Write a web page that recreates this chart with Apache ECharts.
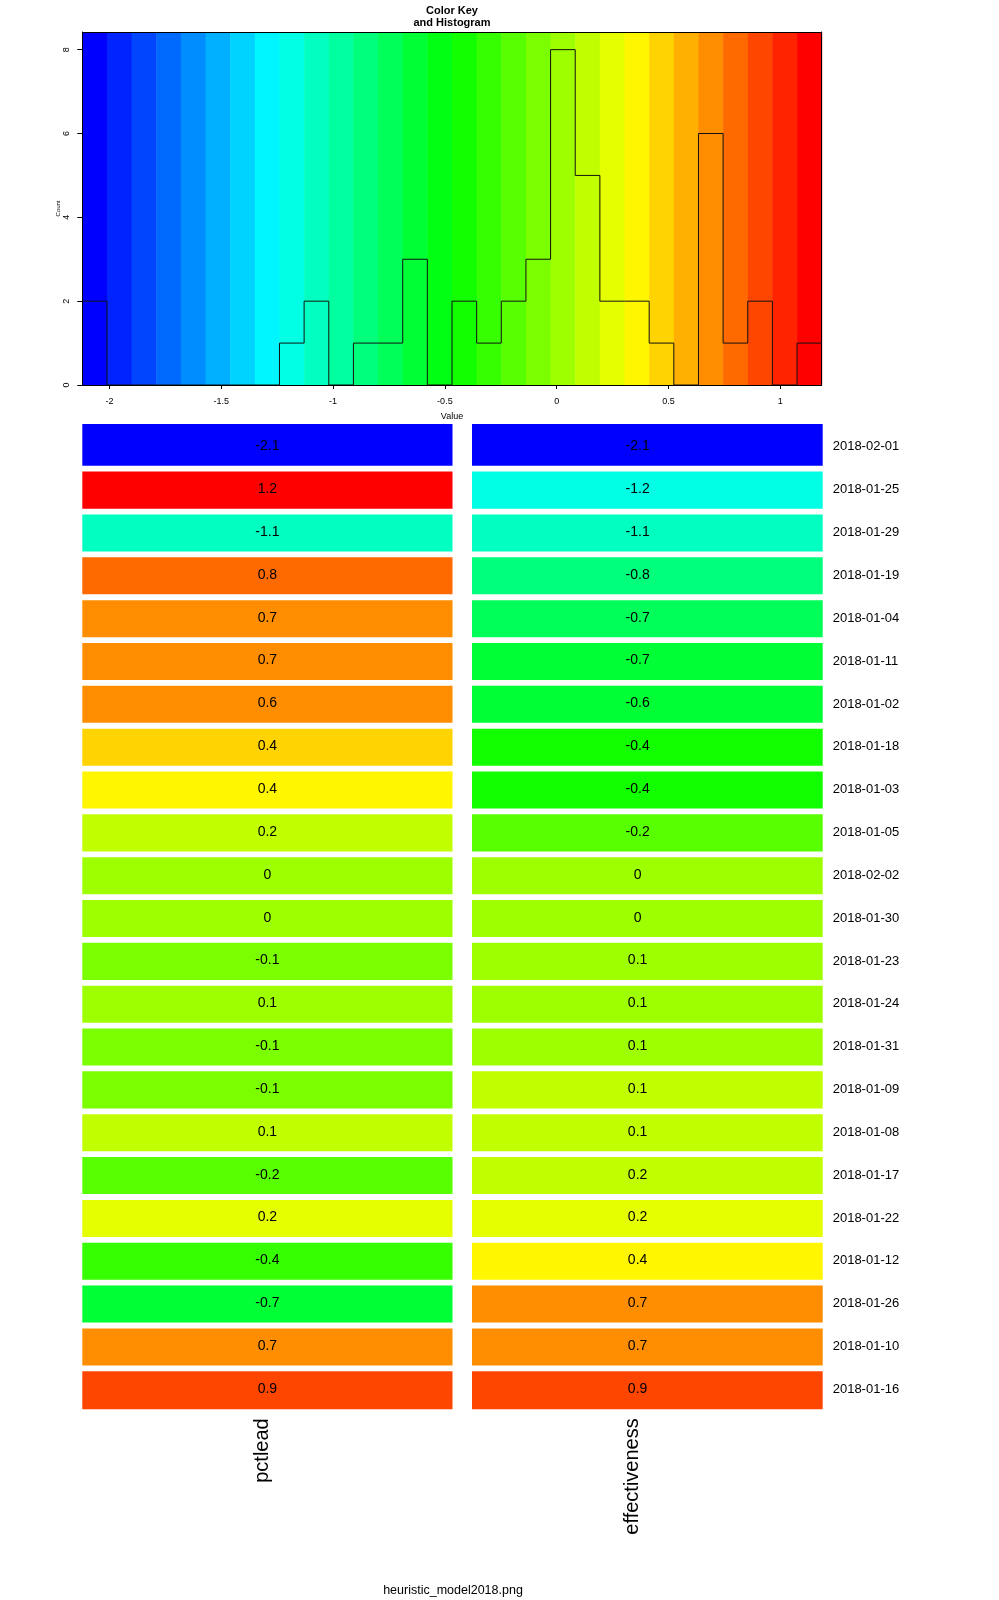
<!DOCTYPE html>
<html>
<head>
<meta charset="utf-8">
<script src="https://cdn.jsdelivr.net/npm/echarts@6/dist/echarts.min.js"></script>
<style>
html,body{margin:0;padding:0;background:#fff;}
#chart{width:999px;height:1600px;}
</style>
</head>
<body>
<div id="chart"></div>
<script>
// ---------------- data ----------------
const dates = ["2018-02-01","2018-01-25","2018-01-29","2018-01-19","2018-01-04","2018-01-11","2018-01-02","2018-01-18","2018-01-03","2018-01-05","2018-02-02","2018-01-30","2018-01-23","2018-01-24","2018-01-31","2018-01-09","2018-01-08","2018-01-17","2018-01-22","2018-01-12","2018-01-26","2018-01-10","2018-01-16"];
const columns = ["pctlead", "effectiveness"];
const pctlead = [-2.1216, 1.1853, -1.08, 0.80, 0.70, 0.68, 0.64, 0.43, 0.37, 0.17, 0.01, -0.01, -0.09, 0.06, -0.10, -0.12, 0.12, -0.19, 0.22, -0.356, -0.67, 0.71, 0.90];
const effectiveness = [-2.08, -1.20, -1.10, -0.82, -0.72, -0.67, -0.62, -0.40, -0.42, -0.20, 0.00, 0.02, 0.07, 0.06, 0.08, 0.11, 0.13, 0.17, 0.21, 0.38, 0.69, 0.72, 0.92];
const histCounts = [2,0,0,0,0,0,0,0,1,2,0,1,1,3,0,2,1,2,3,8,5,2,2,1,0,6,1,2,0,1];
const keyTicks = [-2, -1.5, -1, -0.5, 0, 0.5, 1];
const countTicks = [0, 2, 4, 6, 8];
const titleLines = ["Color Key", "and Histogram"];
const xName = "Value";
const yName = "Count";
const footer = "heuristic_model2018.png";

// ---------------- derived ----------------
const FONT = '"Liberation Sans", Arial, Helvetica, sans-serif';
const allVals = pctlead.concat(effectiveness);
const kMin = Math.min(...allVals), kMax = Math.max(...allVals);
const nBins = histCounts.length;
const step = (kMax - kMin) / nBins;
const breaks = Array.from({length: nBins + 1}, (_, k) => kMin + k * step);
const countMax = Math.max(...histCounts) / 0.95;

function hex2rgb(h){return [parseInt(h.slice(1,3),16),parseInt(h.slice(3,5),16),parseInt(h.slice(5,7),16)];}
function ramp(stops, n){
  const rgb = stops.map(hex2rgb), out = [];
  for (let i = 0; i < n; i++){
    const pos = i / (n - 1) * (stops.length - 1);
    let s = Math.floor(pos); if (s >= stops.length - 1) s = stops.length - 2;
    const t = pos - s;
    const c = [0,1,2].map(j => Math.round(rgb[s][j] + (rgb[s+1][j] - rgb[s][j]) * t));
    out.push('rgb(' + c.join(',') + ')');
  }
  return out;
}
const palette = ramp(["#0000FF","#00FFFF","#00FF00","#FFFF00","#FF0000"], nBins);
const pieces = palette.map((c, k) => {
  const p = {color: c};
  if (k > 0) p.gte = breaks[k];
  if (k < nBins - 1) p.lt = breaks[k + 1];
  return p;
});

const stripeData = breaks.slice(0, -1).map((b, k) => [b, breaks[k + 1], (b + breaks[k + 1]) / 2]);
const histLine = breaks.map((b, k) => [b, histCounts[Math.min(k, nBins - 1)]]);
const series2 = [pctlead, effectiveness];
const cellData = [];
dates.forEach((d, r) => { series2.forEach((arr, c) => { cellData.push([c, r, arr[r]]); }); });
const fmt = v => String(Math.round(v * 10) / 10);

const colSepFrac = 0.05, rowSepFrac = 0.1;

const chart = echarts.init(document.getElementById('chart'), null, {renderer: 'canvas'});
const axisBlack = {show: true, onZero: false, lineStyle: {color: '#000', width: 1}};
chart.setOption({
  animation: false,
  backgroundColor: '#fff',
  textStyle: {fontFamily: FONT},
  grid: [
    {left: 82.3, top: 32, width: 739.4, height: 353},
    {left: 82.3, top: 424, width: 740.4, height: 985.3}
  ],
  visualMap: {
    type: 'piecewise', show: false, dimension: 2, seriesIndex: [0, 2], pieces: pieces
  },
  xAxis: [
    {type: 'value', gridIndex: 0, min: kMin, max: kMax, z: 10,
     axisLine: axisBlack,
     axisTick: {show: true, customValues: keyTicks, length: 4, lineStyle: {color: '#000'}},
     axisLabel: {customValues: keyTicks, fontSize: 9, color: '#000', margin: 12, fontFamily: FONT},
     splitLine: {show: false},
     name: xName, nameLocation: 'middle', nameGap: 27, nameMoveOverlap: false,
     nameTextStyle: {fontSize: 9, color: '#000', fontFamily: FONT}},
    {type: 'value', gridIndex: 0, min: kMin, max: kMax, position: 'top', z: 10,
     axisLine: axisBlack, axisTick: {show: false}, axisLabel: {show: false}, splitLine: {show: false}},
    {type: 'category', gridIndex: 1, data: columns, position: 'bottom',
     axisLine: {show: false}, axisTick: {show: false}, splitLine: {show: false},
     axisLabel: {rotate: 90, fontSize: 20, color: '#000', margin: 9, fontFamily: FONT,
                 verticalAlign: 'bottom', lineHeight: 10}}
  ],
  yAxis: [
    {type: 'value', gridIndex: 0, min: 0, max: countMax, z: 10,
     axisLine: axisBlack,
     axisTick: {show: true, customValues: countTicks, length: 5, lineStyle: {color: '#000'}},
     axisLabel: {customValues: countTicks, rotate: 90, fontSize: 9, color: '#000', margin: 11, fontFamily: FONT},
     splitLine: {show: false},
     name: yName, nameLocation: 'middle', nameRotate: 90, nameGap: 21, nameMoveOverlap: false,
     nameTextStyle: {fontSize: 6, color: '#000', fontFamily: FONT}},
    {type: 'value', gridIndex: 0, min: 0, max: countMax, position: 'right', z: 10,
     axisLine: axisBlack, axisTick: {show: false}, axisLabel: {show: false}, splitLine: {show: false}},
    {type: 'category', gridIndex: 1, data: dates, inverse: true, position: 'right',
     axisLine: {show: false}, axisTick: {show: false}, splitLine: {show: false},
     axisLabel: {fontSize: 13, color: '#000', margin: 10, fontFamily: FONT, verticalAlign: 'top', lineHeight: 3}}
  ],
  series: [
    {type: 'custom', name: 'key', xAxisIndex: 0, yAxisIndex: 0, z: 1,
     data: stripeData,
     renderItem: (params, api) => {
       const cs = params.coordSys;
       const x0 = api.coord([api.value(0), 0])[0];
       const x1 = api.coord([api.value(1), 0])[0];
       return {type: 'rect', shape: {x: x0, y: cs.y, width: x1 - x0 + 0.5, height: cs.height},
               style: {fill: api.visual('color')}};
     }},
    {type: 'line', name: 'hist', xAxisIndex: 0, yAxisIndex: 0, z: 5,
     data: histLine, step: 'end', showSymbol: false, symbol: 'none',
     lineStyle: {color: '#111', width: 1}},
    {type: 'custom', name: 'cells', xAxisIndex: 2, yAxisIndex: 2,
     data: cellData,
     renderItem: (params, api) => {
       const c = api.value(0), r = api.value(1), v = api.value(2);
       const ctr = api.coord([c, r]);
       const sz = api.size([1, 1]);
       const w = sz[0], h = sz[1];
       let x0 = ctr[0] - w / 2, x1 = ctr[0] + w / 2, y0 = ctr[1] - h / 2, y1 = ctr[1] + h / 2;
       if (c > 0) x0 += w * colSepFrac + 1;
       if (r > 0) y0 += h * rowSepFrac + 0.5;
       if (r < dates.length - 1) y1 -= 1;
       return {type: 'group', children: [
         {type: 'rect', shape: {x: x0, y: y0, width: x1 - x0, height: y1 - y0}, style: {fill: api.visual('color')}},
         {type: 'text', x: ctr[0], y: ctr[1] + 1, style: {text: fmt(v), fill: '#000', fontSize: 14, fontFamily: FONT, align: 'center', verticalAlign: 'middle'}}
       ]};
     }}
  ],
  graphic: [
    {type: 'text', x: 452, y: 10.5, style: {text: titleLines[0], fill: '#000', fontSize: 11, fontWeight: 'bold', fontFamily: FONT, align: 'center', verticalAlign: 'middle'}},
    {type: 'text', x: 452, y: 22.8, style: {text: titleLines[1], fill: '#000', fontSize: 11, fontWeight: 'bold', fontFamily: FONT, align: 'center', verticalAlign: 'middle'}},
    {type: 'text', x: 453, y: 1591, style: {text: footer, fill: '#000', fontSize: 12.5, fontFamily: FONT, align: 'center', verticalAlign: 'middle'}}
  ]
});
</script>
</body>
</html>
